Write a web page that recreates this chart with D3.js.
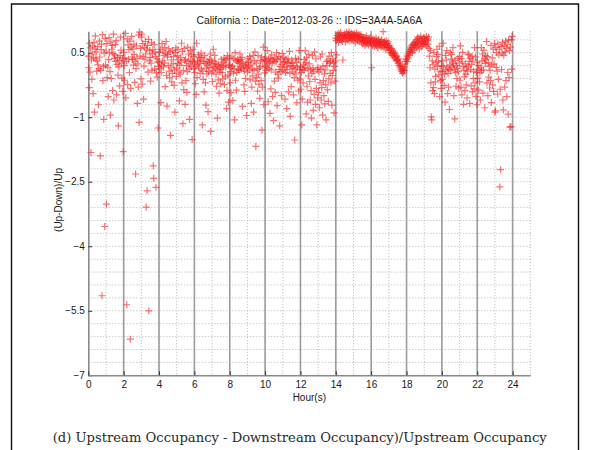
<!DOCTYPE html>
<html>
<head>
<meta charset="utf-8">
<script src="https://cdn.jsdelivr.net/npm/d3@7"></script>
<style>
  html, body { margin: 0; padding: 0; background: #fff; }
  svg { display: block; }
</style>
</head>
<body>
<svg id="chart" width="590" height="450"></svg>
<script>
// ---- labels ----
const titleText = "California :: Date=2012-03-26 :: IDS=3A4A-5A6A";
const xLabelText = "Hour(s)";
const yLabelText = "(Up-Down)/Up";
const captionText = "(d) Upstream Occupancy - Downstream Occupancy)/Upstream Occupancy";

// ---- axis ticks ----
const xTickValues = [0, 2, 4, 6, 8, 10, 12, 14, 16, 18, 20, 22, 24];
const yTickValues = [0.5, -1, -2.5, -4, -5.5, -7];
const xDomain = [0, 25];
const yDomain = [-7, 1];
const yMinorStep = 0.3;

// ---- (Up-Down)/Up occupancy ratio, one sample every 90 seconds ----
const sampleMinutes = 1.5;
const ratio00to06 = [
  0.42,0.15,-0.31,0.72,0.05,0.61,-1.82,0.33,-0.12,0.47,0.66,-0.45,0.38,0.74,-0.88,0.58,0.89,0.36,0.52,0.07,
  0.31,0.64,0.22,-0.71,0.13,0.77,0.4,-1.9,0.09,0.57,0.7,-5.15,0.92,-0.15,0.18,-1.05,0.49,-3.54,0.83,0.21,
  0.54,-3.02,0.71,-0.08,0.16,-0.52,0.34,0.85,0.5,0.06,-0.95,0.75,-0.1,0.58,0.67,-0.38,0.48,0.93,-0.6,0.37,
  0.45,0.69,0.3,0.78,-0.48,0.23,0.39,-0.02,-1.2,0.17,0.32,-0.27,0.43,0.86,0.56,0.26,-0.09,0.36,-0.4,-1.8,
  0.51,0.2,-0.14,0.38,0.95,-0.55,0.3,-5.36,0.82,-0.24,0.68,0.35,0.57,0.04,0.77,-6.16,-0.33,0.63,0.88,0.4,
  0.34,0.59,0.21,0.7,0.46,-0.19,0.29,-2.32,0.13,0.66,0.37,-0.68,0.24,-0.3,0.91,-1.12,0.98,0.42,0.6,-0.11,
  0.86,0.93,-0.23,0.71,0.4,-0.58,0.19,0.62,0.35,0.76,0.47,-3.09,0.58,-2.71,0.67,0.05,0.81,-5.5,0.31,0.55,
  0.39,-0.16,0.26,0.73,0.09,0.48,0.57,-2.13,-2.42,0.69,0.12,0.52,0.41,-2.63,0.03,0.36,-0.07,0.29,-1.25,0.18,
  0.27,0.5,0.13,0.58,-0.66,0.04,0.22,0.71,0.31,0.54,0.17,0.43,0.26,0.62,-0.29,0.49,0.76,-0.03,-0.74,0.4,
  0.46,0.2,0.59,0.07,-0.08,0.52,-1.42,0.15,0.33,-0.18,0.02,0.55,0.24,0.41,-0.26,0.1,-0.88,0.5,0.61,-0.05,
  0.14,0.43,0.25,0.57,0.34,0.05,-0.62,0.21,0.0,0.39,0.28,0.72,-0.2,0.53,-1.15,0.09,-0.36,0.6,0.32,-0.7,
  0.35,-0.15,0.2,-0.42,0.06,0.63,0.3,0.47,0.12,-1.05,0.24,0.55,0.33,0.17,0.45,-1.52,0.29,0.58,0.41,0.13
];
const ratio06to12 = [
  0.28,0.04,-0.22,0.19,-0.47,0.72,-0.08,0.31,0.23,0.45,0.15,0.38,0.26,0.02,0.33,0.49,0.12,0.39,-1.18,0.07,
  -0.12,0.3,-0.41,0.43,0.25,-0.2,-0.72,0.14,0.01,0.29,0.21,-0.87,0.06,0.27,0.35,0.16,0.47,-1.33,0.32,0.03,
  0.24,-0.17,0.08,0.58,0.17,0.3,0.44,0.13,0.26,0.0,-0.28,0.19,-1.02,0.1,-0.13,0.23,-0.44,0.15,0.05,-0.22,
  0.12,0.35,0.21,0.04,-0.11,0.27,0.18,0.38,-0.24,0.31,-0.06,0.16,0.34,-0.8,-0.38,0.43,-0.02,-0.65,0.2,0.37,
  0.22,-0.2,0.06,-0.43,0.15,0.4,0.18,-0.61,0.02,0.36,0.13,-1.06,0.5,-0.14,0.32,-0.37,0.04,0.28,0.35,0.11,
  0.31,0.09,0.25,0.47,0.17,0.34,0.12,0.29,0.39,-0.75,0.23,0.14,-0.25,0.07,-0.4,0.2,-0.1,0.26,-0.96,0.16,
  0.05,0.36,0.19,0.28,0.1,0.41,-0.13,0.33,0.22,-0.68,-0.3,0.13,-0.04,0.44,-0.88,0.09,0.31,0.52,-0.16,-1.68,
  0.26,-0.08,0.11,-0.39,0.43,0.0,-0.23,0.14,-0.56,0.18,0.32,-0.15,0.4,-1.3,-0.3,0.29,0.63,-0.71,0.34,0.03,
  0.19,0.4,0.09,0.31,0.16,0.55,0.24,-0.64,0.35,0.13,0.28,-0.91,0.37,-0.34,0.1,0.45,0.26,-0.52,0.33,-1.08,
  0.3,-0.16,0.38,-0.42,0.05,0.29,0.5,-0.73,0.34,0.0,-0.09,0.41,0.11,-1.2,0.18,0.36,0.06,-0.5,0.23,0.48,
  0.08,0.27,0.39,0.15,0.3,-0.58,0.04,0.35,0.17,-0.8,0.11,0.28,0.36,-0.41,0.25,0.53,0.02,-0.98,0.2,-0.29,
  0.33,0.14,0.26,0.05,-0.48,0.19,-0.08,-1.53,0.12,0.37,0.01,0.28,-0.66,0.16,-0.14,0.35,-0.39,0.55,0.1,-0.11
];
const ratio12to18 = [
  0.18,-0.35,0.04,-1.18,-0.58,0.12,-0.2,0.22,0.09,0.34,0.16,0.55,0.27,-0.92,0.38,-0.28,-0.65,0.13,-0.04,0.46,
  0.24,-0.17,-0.6,0.1,-0.38,-1.02,0.02,0.43,0.14,-0.84,0.07,-0.47,0.52,-0.12,-0.7,0.36,-0.33,-1.18,0.11,-0.55,
  0.15,-0.42,0.05,-0.78,-0.2,0.4,0.12,-0.6,-0.31,0.47,-0.95,0.19,-0.15,-0.5,0.01,-0.69,0.1,-0.24,-1.06,0.3,
  0.2,-0.36,0.33,-0.63,-0.11,0.42,0.25,0.02,0.29,-0.2,0.5,-0.72,-0.03,0.36,0.09,0.27,-0.9,0.18,-0.16,0.31,
  0.84,0.78,0.45,0.9,0.82,0.95,0.74,0.88,0.93,0.8,0.86,0.97,0.79,0.91,0.84,0.76,0.33,0.89,0.83,0.94,
  0.88,0.92,0.75,0.86,0.97,0.82,0.9,0.79,0.94,0.87,0.99,0.84,0.77,0.91,0.86,0.96,0.8,0.89,0.93,0.83,
  0.89,0.8,0.94,0.85,0.73,0.91,0.87,0.96,0.82,0.78,0.9,0.86,0.93,0.76,0.84,0.88,0.8,0.92,0.74,0.85,
  0.82,0.7,0.78,0.86,0.73,0.8,0.66,0.84,0.76,0.89,0.71,0.79,0.74,0.83,0.68,0.77,0.81,0.72,0.85,0.75,
  0.75,0.15,0.79,0.67,0.82,0.71,0.77,0.64,0.8,0.73,0.69,0.84,0.66,0.78,0.72,0.61,0.75,0.81,0.68,0.74,
  0.73,0.68,0.77,0.63,0.8,0.7,0.66,0.99,0.74,0.61,0.76,0.69,0.72,0.58,0.78,0.65,0.71,0.62,0.75,0.67,
  0.62,0.55,0.66,0.5,0.58,0.47,0.6,0.52,0.44,0.56,0.48,0.4,0.51,0.43,0.36,0.47,0.39,0.31,0.42,0.34,
  0.32,0.26,0.36,0.2,0.28,0.15,0.22,0.1,0.18,0.06,0.13,0.02,0.09,0.05,0.12,0.08,0.17,0.24,0.3,0.36
];
const ratio18to24 = [
  0.34,0.42,0.29,0.47,0.38,0.52,0.44,0.57,0.49,0.61,0.53,0.66,0.58,0.5,0.69,0.62,0.72,0.56,0.67,0.74,
  0.68,0.77,0.62,0.81,0.71,0.86,0.65,0.75,0.83,0.59,0.79,0.7,0.88,0.73,0.64,0.82,0.76,0.68,0.85,0.72,
  0.76,0.84,0.69,0.8,0.73,0.88,0.65,0.78,0.82,0.7,0.86,0.6,0.42,0.15,0.55,-0.2,-0.99,-1.06,0.31,-0.38,
  0.22,-0.31,0.5,-0.45,0.12,-0.18,-0.05,0.27,0.41,0.58,0.18,0.46,0.3,-0.02,0.65,-0.52,0.07,-0.15,-0.33,0.2,
  0.31,-0.12,0.06,0.72,0.19,-0.26,0.0,-0.65,0.44,0.1,0.33,0.55,0.15,-0.45,0.02,-0.3,0.12,-0.82,0.21,0.5,
  0.08,0.35,0.46,0.17,0.29,0.62,0.24,-0.5,0.11,-1.04,0.32,0.03,-0.28,0.2,-0.1,0.14,0.37,0.06,-0.32,0.26,
  0.41,-0.14,0.66,-0.3,0.36,-0.48,0.29,0.51,0.18,-0.7,0.09,-0.06,-0.38,0.24,0.0,-0.25,0.15,-0.55,0.07,0.47,
  0.19,0.45,0.3,-0.68,0.37,0.11,-0.27,0.23,0.42,-0.41,0.33,-0.1,0.07,-0.34,0.62,-0.2,0.4,-0.52,0.04,-0.71,
  0.28,-0.09,0.12,-0.37,0.2,-0.18,0.03,-0.6,0.15,0.62,0.08,0.31,0.47,-0.44,0.1,0.56,0.36,-0.78,0.25,0.43,
  0.33,0.76,-0.2,0.41,-0.5,0.27,-0.07,0.18,-0.32,0.09,-0.15,0.67,-0.66,0.22,0.38,-0.25,0.58,-0.4,0.24,0.72,
  -0.88,-0.85,0.62,0.16,0.5,0.07,-0.46,0.7,-0.12,0.45,0.58,-2.62,-0.35,-2.22,0.64,0.11,0.49,0.74,-0.6,-0.83,
  0.44,0.66,-0.3,0.52,0.77,-0.15,0.6,-0.52,0.7,0.04,-0.93,0.8,-0.08,0.55,-1.23,0.63,-1.22,0.8,0.12,0.88
];
const segmentStartHours = [0, 6, 12, 18];
const segmentValues = [ratio00to06, ratio06to12, ratio12to18, ratio18to24];

// sample time (hours) + ratio
const samples = [];
segmentValues.forEach((vals, s) => {
  vals.forEach((v, i) => {
    samples.push({ hour: segmentStartHours[s] + i * sampleMinutes / 60, ratio: v });
  });
});

// ---- layout ----
const svg = d3.select("#chart");
const plot = { left: 88.3, right: 530.3, top: 31.2, bottom: 375.3 };

const x = d3.scaleLinear().domain(xDomain).range([plot.left, plot.right]);
const y = d3.scaleLinear().domain(yDomain).range([plot.bottom, plot.top]);

// page frame
svg.append("path")
  .attr("d", "M11.5,452 V4 H578.5 V452")
  .attr("fill", "none")
  .attr("stroke", "#111")
  .attr("stroke-width", 1.4);

const grid = svg.append("g").attr("class", "grid");

// dotted minor horizontal grid
const yMinor = d3.range(0, Math.round((yDomain[1] - yDomain[0]) / yMinorStep) + 1)
  .map(k => +(yDomain[0] + k * yMinorStep).toFixed(2))
  .filter(v => v <= yDomain[1]);
grid.selectAll("line.hminor").data(yMinor).join("line")
  .attr("class", "hminor")
  .attr("x1", plot.left).attr("x2", plot.right)
  .attr("y1", d => y(d)).attr("y2", d => y(d))
  .attr("stroke", "#b4b4b4").attr("stroke-width", 1)
  .attr("stroke-dasharray", "1,2");

// dotted hourly vertical grid
const hourLines = d3.range(1, xDomain[1] + 1);
grid.selectAll("line.vminor").data(hourLines).join("line")
  .attr("class", "vminor")
  .attr("x1", d => x(d)).attr("x2", d => x(d))
  .attr("y1", plot.top).attr("y2", plot.bottom)
  .attr("stroke", "#b4b4b4").attr("stroke-width", 1)
  .attr("stroke-dasharray", "1,2");

// solid major vertical lines at even hours
grid.selectAll("line.vmajor").data(xTickValues.filter(d => d > 0)).join("line")
  .attr("class", "vmajor")
  .attr("x1", d => x(d)).attr("x2", d => x(d))
  .attr("y1", plot.top).attr("y2", plot.bottom)
  .attr("stroke", "#9c9c9c").attr("stroke-width", 1.6);

// axes
const font = "'Liberation Sans', Arial, Helvetica, sans-serif";

const yAxis = svg.append("g")
  .attr("transform", `translate(${plot.left},0)`)
  .call(d3.axisLeft(y).tickValues(yTickValues).tickFormat(d3.format("")).tickSizeInner(-4).tickSizeOuter(0).tickPadding(3.5));
const xAxis = svg.append("g")
  .attr("transform", `translate(0,${plot.bottom})`)
  .call(d3.axisBottom(x).tickValues(xTickValues).tickFormat(d3.format("d")).tickSizeInner(-4).tickSizeOuter(0).tickPadding(6));

[xAxis, yAxis].forEach(g => {
  g.select(".domain").attr("stroke", "#8a8a8a").attr("stroke-width", 1.6);
  g.selectAll(".tick line").attr("stroke", "#333").attr("stroke-width", 1);
  g.selectAll(".tick text")
    .attr("font-family", font).attr("font-size", "10px").attr("fill", "#1a1a1a");
});

// markers
const plusPath = "M-3.5,0H3.5M0,-3.5V3.5";
svg.append("g").attr("class", "points")
  .selectAll("path").data(samples).join("path")
  .attr("d", plusPath)
  .attr("transform", d => `translate(${x(d.hour).toFixed(2)},${y(d.ratio).toFixed(2)})`)
  .attr("fill", "none")
  .attr("stroke", "#f41c1c")
  .attr("stroke-opacity", 0.62)
  .attr("stroke-width", 1.2);

// texts
svg.append("text")
  .attr("x", (plot.left + plot.right) / 2).attr("y", 24.3)
  .attr("text-anchor", "middle")
  .attr("font-family", font).attr("font-size", "10.4px").attr("fill", "#1a1a1a")
  .text(titleText);

svg.append("text")
  .attr("x", (plot.left + plot.right) / 2).attr("y", 401.3)
  .attr("text-anchor", "middle")
  .attr("font-family", font).attr("font-size", "10px").attr("fill", "#1a1a1a")
  .text(xLabelText);

svg.append("text")
  .attr("transform", "translate(61.5,200) rotate(-90)")
  .attr("text-anchor", "middle")
  .attr("font-family", font).attr("font-size", "10px").attr("fill", "#1a1a1a")
  .text(yLabelText);

svg.append("text")
  .attr("x", 299.7).attr("y", 441.5)
  .attr("text-anchor", "middle")
  .attr("font-family", "'DejaVu Serif', serif").attr("font-size", "13px").attr("fill", "#2a2a2a")
  .attr("textLength", 494).attr("lengthAdjust", "spacingAndGlyphs")
  .text(captionText);
</script>
</body>
</html>
